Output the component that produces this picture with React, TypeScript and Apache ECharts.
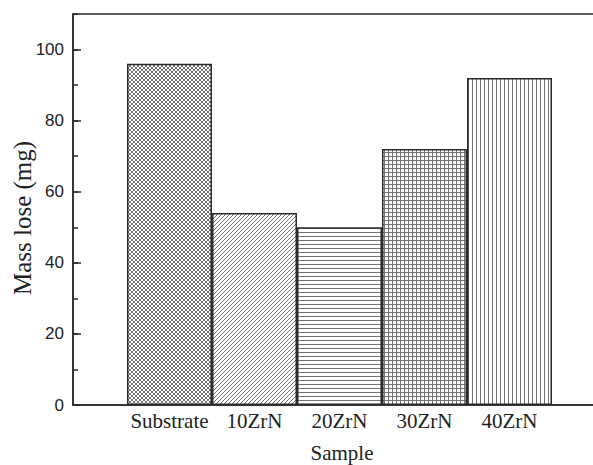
import React, { useEffect, useRef } from "react";
import * as echarts from "echarts";

const categories = ["Substrate", "10ZrN", "20ZrN", "30ZrN", "40ZrN"];
const massLoss = [96, 54, 50, 72, 92];
const patterns = ["cross", "diag", "horiz", "grid", "vert"];
const yTicks = [0, 20, 40, 60, 80, 100];

function makePattern(kind: string) {
  const s = 4;
  const c = document.createElement("canvas");
  c.width = s;
  c.height = s;
  const ctx = c.getContext("2d")!;
  ctx.fillStyle = "#ffffff";
  ctx.fillRect(0, 0, s, s);
  ctx.strokeStyle = "#737373";
  ctx.lineWidth = 1;
  ctx.beginPath();
  if (kind === "cross" || kind === "diag") {
    ctx.moveTo(-1, s + 1);
    ctx.lineTo(s + 1, -1);
    ctx.moveTo(-1, 1);
    ctx.lineTo(1, -1);
    ctx.moveTo(s - 1, s + 1);
    ctx.lineTo(s + 1, s - 1);
  }
  if (kind === "cross") {
    ctx.moveTo(-1, -1);
    ctx.lineTo(s + 1, s + 1);
    ctx.moveTo(-1, s - 1);
    ctx.lineTo(1, s + 1);
    ctx.moveTo(s - 1, -1);
    ctx.lineTo(s + 1, 1);
  }
  if (kind === "horiz" || kind === "grid") {
    ctx.moveTo(0, 0.5);
    ctx.lineTo(s, 0.5);
  }
  if (kind === "vert" || kind === "grid") {
    ctx.moveTo(0.5, 0);
    ctx.lineTo(0.5, s);
  }
  ctx.stroke();
  return {
    image: c.toDataURL(),
    repeat: "repeat",
    imageWidth: s,
    imageHeight: s,
  };
}

export default function App() {
  const ref = useRef<HTMLDivElement>(null);
  useEffect(() => {
    document.body.style.margin = "0";
    const chart = echarts.init(ref.current!, null, { renderer: "svg" });
    const serif = "'Liberation Serif', 'Times New Roman', serif";
    const sans = "'Liberation Sans', Arial, sans-serif";
    chart.setOption({
      animation: false,
      backgroundColor: "#ffffff",
      grid: {
        left: 73,
        top: 14,
        right: -6,
        bottom: 60,
        containLabel: false,
        outerBoundsMode: "none",
        show: true,
        borderColor: "#2a2a2a",
        borderWidth: 1.5,
      },
      xAxis: {
        type: "value",
        min: -0.135,
        max: 6.053,
        name: "Sample",
        nameLocation: "middle",
        nameGap: 37,
        nameMoveOverlap: false,
        nameTextStyle: { fontFamily: serif, fontSize: 21, color: "#222", padding: [0, 0, 0, 12] },
        axisLine: { show: true, onZero: false, lineStyle: { color: "#2a2a2a", width: 1.5 } },
        axisTick: { show: false },
        splitLine: { show: false },
        axisLabel: {
          customValues: [1, 2, 3, 4, 5],
          formatter: (v: number) => categories[Math.round(v) - 1] ?? "",
          fontFamily: serif,
          fontSize: 21,
          color: "#222",
          margin: 5,
        },
      },
      yAxis: [
        {
          type: "value",
          min: 0,
          max: 110,
          interval: 20,
          name: "Mass lose (mg)",
          nameLocation: "middle",
          nameGap: 38,
          nameMoveOverlap: false,
          nameTextStyle: { fontFamily: serif, fontSize: 25, color: "#222", padding: [0, 17, 0, 0] },
          axisLine: { show: true, onZero: false, lineStyle: { color: "#2a2a2a", width: 1.5 } },
          axisTick: { show: true, inside: true, length: 8, lineStyle: { color: "#2a2a2a", width: 1.5 } },
          splitLine: { show: false },
          axisLabel: {
            showMaxLabel: false,
            formatter: (v: number) => (yTicks.includes(v) ? String(v) : ""),
            fontFamily: sans,
            fontSize: 17,
            color: "#222",
            margin: 9,
          },
        },
        {
          type: "value",
          min: 0,
          max: 110,
          interval: 10,
          position: "left",
          offset: 0,
          axisLine: { show: false, onZero: false },
          axisTick: { show: true, inside: true, length: 5, lineStyle: { color: "#2a2a2a", width: 1.5 } },
          axisLabel: { show: false },
          splitLine: { show: false },
        },
      ],
      series: [
        {
          type: "bar",
          yAxisIndex: 0,
          barWidth: 85,
          data: massLoss.map((v, i) => ({
            value: [i + 1, v],
            itemStyle: {
              color: makePattern(patterns[i]),
              borderColor: "#2a2a2a",
              borderWidth: 1.5,
            },
          })),
        },
      ],
    });
    return () => chart.dispose();
  }, []);
  return <div ref={ref} style={{ width: 593, height: 465 }} />;
}
